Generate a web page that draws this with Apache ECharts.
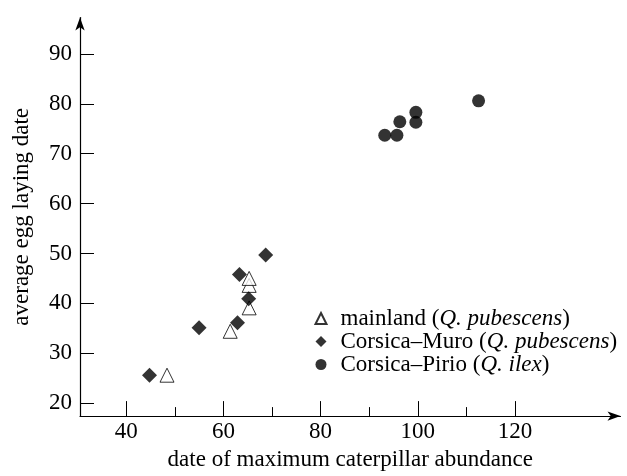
<!DOCTYPE html>
<html>
<head>
<meta charset="utf-8">
<script src="https://cdn.jsdelivr.net/npm/echarts@6/dist/echarts.min.js"></script>
<style>
html, body { margin: 0; padding: 0; background: #fff; }
#main { width: 627px; height: 476px; }
</style>
</head>
<body>
<div id="main"></div>
<script>
var mainlandX = [48.4, 61.4, 65.3, 65.3, 65.3];
var mainlandY = [25.6, 34.4, 39.1, 43.6, 45.0];
var muroX = [44.8, 55.0, 62.9, 65.2, 63.3, 68.7];
var muroY = [25.6, 35.1, 36.1, 40.9, 45.8, 49.7];
var pirioX = [93.2, 95.7, 96.3, 99.6, 99.6, 112.5];
var pirioY = [73.7, 73.7, 76.4, 76.3, 78.3, 80.6];

var yTicks = [20, 30, 40, 50, 60, 70, 80, 90];
var xMajor = [40, 60, 80, 100, 120];
var xMinor = [50, 70, 90, 110];

var serif = "'Liberation Serif', 'DejaVu Serif', serif";

function pairs(xs, ys) {
    return xs.map(function (x, i) { return [x, ys[i]]; });
}

var chartDom = document.getElementById('main');
var myChart = echarts.init(chartDom, null, { renderer: 'canvas' });
var option;
option = {
    animation: false,
    grid: { left: 80, right: 6.5, top: 17.5, bottom: 58 },
    legend: {
        orient: 'vertical',
        left: 309.5,
        top: 302,
        itemWidth: 11,
        itemHeight: 11,
        itemGap: 0,
        textStyle: {
            fontFamily: serif,
            fontSize: 23,
            color: '#000',
            lineHeight: 22.5,
            padding: [0, 0, 0, 9],
            rich: {
                n: { fontFamily: serif, fontSize: 23, color: '#000' },
                i: { fontFamily: serif, fontSize: 23, color: '#000', fontStyle: 'italic' }
            }
        },
        formatter: function (name) {
            var m = name.match(/^(.*\()(.*)(\))$/);
            return '{n|' + m[1] + '}{i|' + m[2] + '}{n|' + m[3] + '}';
        },
        data: ['mainland (Q. pubescens)', 'Corsica–Muro (Q. pubescens)', 'Corsica–Pirio (Q. ilex)']
    },
    xAxis: [
        {
            type: 'value',
            min: 30.5,
            max: 141.7,
            name: 'date of maximum caterpillar abundance',
            nameLocation: 'middle',
            nameGap: 27,
            nameTextStyle: { fontFamily: serif, fontSize: 23, color: '#000' },
            splitLine: { show: false },
            axisLine: { lineStyle: { color: '#000', width: 1.2 }, symbol: ['none', 'arrow'], symbolSize: [7, 13] },
            axisTick: { inside: true, length: 15, customValues: xMajor, lineStyle: { color: '#000' } },
            axisLabel: { customValues: xMajor, fontFamily: serif, fontSize: 23, color: '#000', margin: 4 }
        },
        {
            type: 'value',
            min: 30.5,
            max: 141.7,
            position: 'bottom',
            splitLine: { show: false },
            axisLine: { show: false },
            axisTick: { inside: true, length: 9, customValues: xMinor, lineStyle: { color: '#000' } },
            axisLabel: { show: false }
        }
    ],
    yAxis: {
        type: 'value',
        min: 17.4,
        max: 97.3,
        name: 'average egg laying date',
        nameLocation: 'middle',
        nameGap: 47,
        nameTextStyle: { fontFamily: serif, fontSize: 23, color: '#000' },
        splitLine: { show: false },
        axisLine: { lineStyle: { color: '#000', width: 1.2 }, symbol: ['none', 'arrow'], symbolSize: [7, 13] },
        axisTick: { inside: true, length: 14, customValues: yTicks, lineStyle: { color: '#000' } },
        axisLabel: { customValues: yTicks, fontFamily: serif, fontSize: 23, color: '#000', margin: 8 }
    },
    series: [
        {
            name: 'mainland (Q. pubescens)',
            type: 'scatter',
            symbol: 'triangle',
            symbolSize: 14,
            itemStyle: { color: '#fff', borderColor: '#000', borderWidth: 1 },
            data: pairs(mainlandX, mainlandY)
        },
        {
            name: 'Corsica–Muro (Q. pubescens)',
            type: 'scatter',
            symbol: 'diamond',
            symbolSize: 15,
            itemStyle: { color: '#000' },
            data: pairs(muroX, muroY)
        },
        {
            name: 'Corsica–Pirio (Q. ilex)',
            type: 'scatter',
            symbol: 'circle',
            symbolSize: 13,
            itemStyle: { color: '#000' },
            data: pairs(pirioX, pirioY)
        }
    ]
};
option && myChart.setOption(option);
</script>
</body>
</html>
